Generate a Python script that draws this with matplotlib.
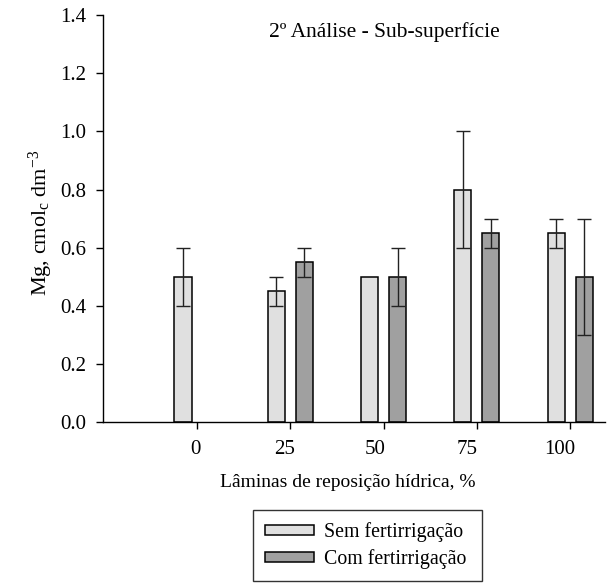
import numpy as np
import matplotlib.pyplot as plt
import matplotlib.transforms as mtransforms

plt.rcParams['font.family'] = ['Liberation Serif', 'DejaVu Serif']
plt.rcParams['mathtext.fontset'] = 'custom'
plt.rcParams['mathtext.rm'] = 'Liberation Serif'
plt.rcParams['mathtext.it'] = 'Liberation Serif'

# Data
laminas = [0, 25, 50, 75, 100]
sem_fert = [0.50, 0.45, 0.50, 0.80, 0.65]
sem_err = [0.10, 0.05, 0.00, 0.20, 0.05]
com_fert = [np.nan, 0.55, 0.50, 0.65, 0.50]
com_err = [0.00, 0.05, 0.10, 0.05, 0.20]
y_ticks = [0.0, 0.2, 0.4, 0.6, 0.8, 1.0, 1.2, 1.4]

# small left shift of the x tick labels seen in the original (pixels)
xlabel_shift_px = [-2, -6, -8, -10, -10]

fig = plt.figure(figsize=(6.15, 5.83), dpi=100)
ax = fig.add_axes([0.1675, 0.2762, 0.8165, 0.6978])

x = np.array(laminas, dtype=float)
offset = 3.75
width = 4.6

ax.bar(x - offset, sem_fert, width, color='#e0e0e0', edgecolor='black',
       linewidth=1.1, label='Sem fertirrigação')
ax.bar(x + offset, com_fert, width, color='#a0a0a0', edgecolor='black',
       linewidth=1.1, label='Com fertirrigação')

# Error bars
ekw = dict(fmt='none', ecolor='#222222', elinewidth=1.0, capsize=4.7, capthick=1.0)
sem_mask = np.array(sem_err) > 0
ax.errorbar((x - offset)[sem_mask], np.array(sem_fert)[sem_mask],
            yerr=np.array(sem_err)[sem_mask], **ekw)
com_mask = np.array(com_err) > 0
ax.errorbar((x + offset)[com_mask], np.array(com_fert)[com_mask],
            yerr=np.array(com_err)[com_mask], **ekw)

ax.set_xlim(-25.2, 109.4)
ax.set_ylim(0, 1.4)
ax.set_xticks(laminas)
ax.set_yticks(y_ticks)
ax.set_yticklabels(['%.1f' % v for v in y_ticks])
ax.tick_params(direction='out', length=5, width=1, labelsize=15)
ax.tick_params(axis='x', pad=8)
ax.tick_params(axis='y', pad=7)

for lbl, dx in zip(ax.get_xticklabels(), xlabel_shift_px):
    lbl.set_transform(lbl.get_transform() +
                      mtransforms.ScaledTranslation(dx / 100, 0, fig.dpi_scale_trans))

for s in ['top', 'right']:
    ax.spines[s].set_visible(False)
for s in ['left', 'bottom']:
    ax.spines[s].set_linewidth(1.0)

ax.set_xlabel('Lâminas de reposição hídrica, %', fontsize=14)
ax.xaxis.set_label_coords(0.487, -0.128)
ax.set_ylabel(r'Mg, cmol$_\mathregular{c}$ dm$^\mathregular{-3}$', fontsize=16)
ax.yaxis.set_label_coords(-0.096, 0.49)

ax.text(0.561, 0.958, '2º Análise - Sub-superfície', transform=ax.transAxes,
        ha='center', va='center', fontsize=15.5)

leg = fig.legend(loc='upper left', mode='expand',
                 bbox_to_anchor=(252.7 / 615, 0, 229 / 615, 1 - 510 / 583),
                 fontsize=14.3, frameon=True, fancybox=False, edgecolor='black',
                 handlelength=2.5, handleheight=0.4, handletextpad=0.5,
                 borderpad=0.6, labelspacing=0.35, borderaxespad=0)
leg.get_frame().set_linewidth(1.0)

fig.savefig('out.png', dpi=100)
